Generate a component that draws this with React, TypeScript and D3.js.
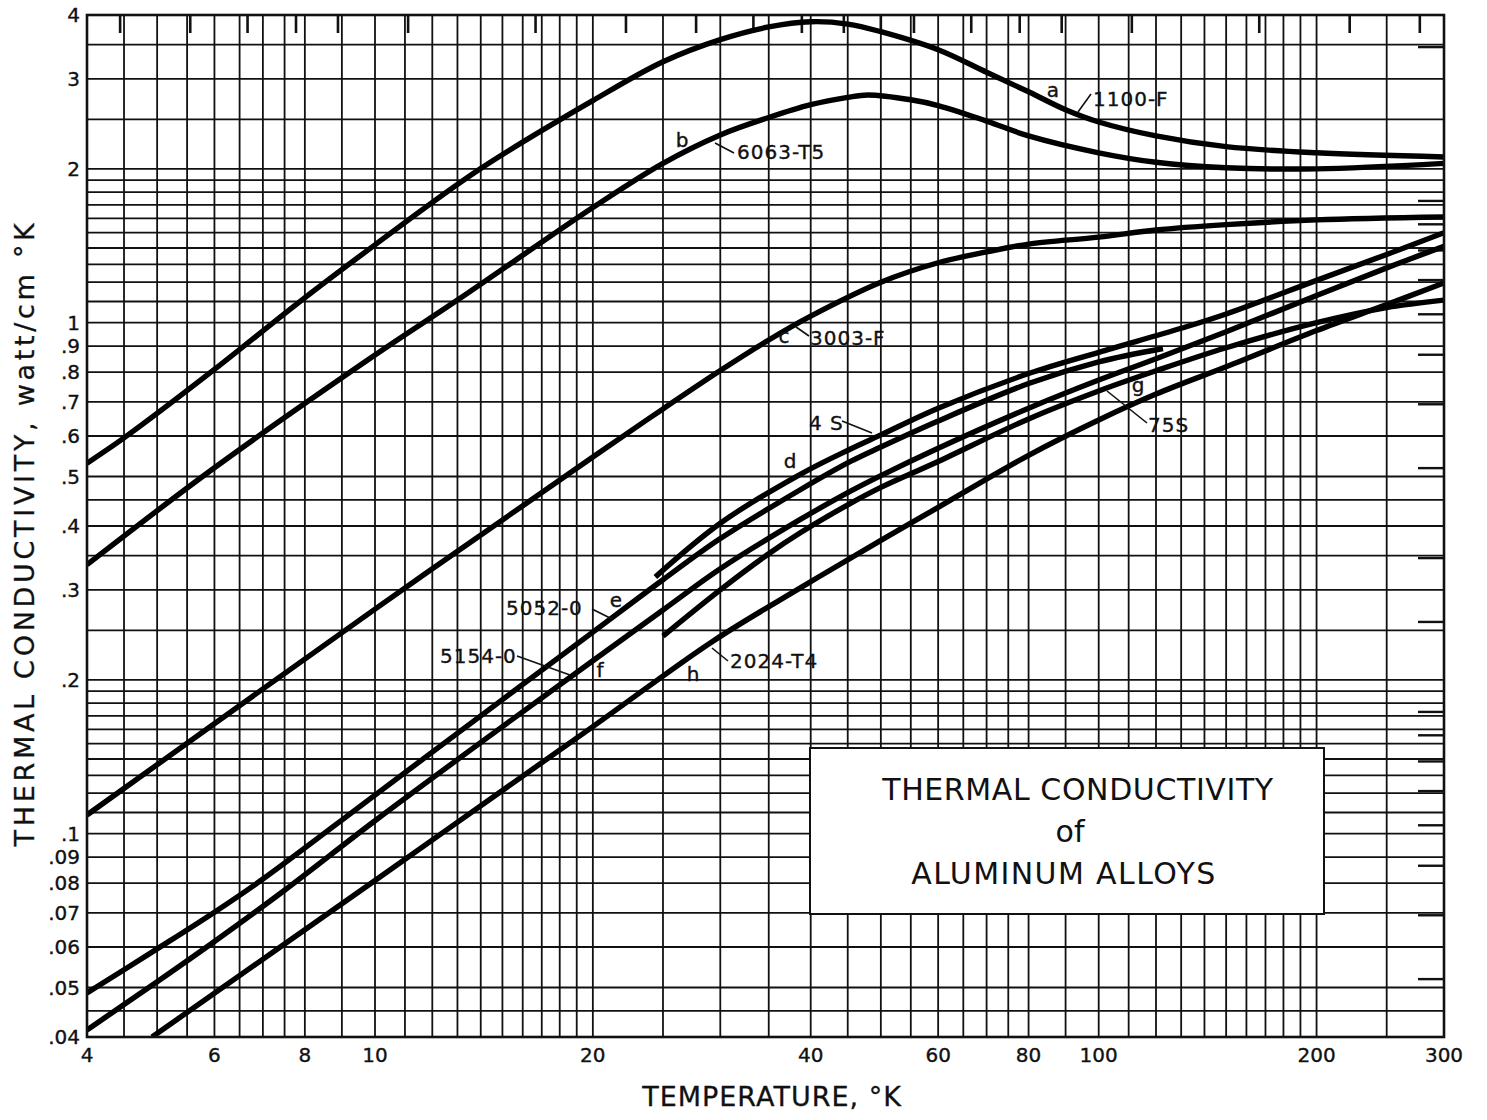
import React from 'react';
import * as d3 from 'd3';

// ---- axis grid (log paper rulings) ----
const tempGrid = [4, 4.5, 5, 5.5, 6, 6.5, 7, 7.5, 8, 9, 10, 11, 12, 13, 14, 15, 16, 17, 18, 19, 20, 25, 30, 35, 40, 45, 50, 55, 60, 65, 70, 75, 80, 90, 100, 110, 120, 130, 140, 150, 160, 170, 180, 190, 200, 250, 300];
const condGrid = [0.04, 0.045, 0.05, 0.06, 0.07, 0.08, 0.09, 0.1, 0.11, 0.12, 0.13, 0.14, 0.15, 0.16, 0.17, 0.18, 0.19, 0.2, 0.25, 0.3, 0.35, 0.4, 0.45, 0.5, 0.6, 0.7, 0.8, 0.9, 1, 1.1, 1.2, 1.3, 1.4, 1.5, 1.6, 1.7, 1.8, 1.9, 2, 2.5, 3, 3.5, 4];

// ---- tick labels ----
const tempTicks = [4, 6, 8, 10, 20, 40, 60, 80, 100, 200, 300];
const condTicks = [4, 3, 2, 1, 0.9, 0.8, 0.7, 0.6, 0.5, 0.4, 0.3, 0.2, 0.1, 0.09, 0.08, 0.07, 0.06, 0.05, 0.04];

// secondary scales marked along the top (°R) and right edge (Btu/hr ft °F)
const rankineTicks = [8, 10, 12, 14, 16, 20, 30, 40, 50, 60, 70, 80, 90, 100, 120, 140, 160, 200, 300, 400, 500];
const btuTicks = [3, 4, 5, 6, 7, 8, 9, 10, 15, 20, 30, 40, 50, 60, 70, 80, 90, 100, 200];
const RANKINE_PER_KELVIN = 1.8;
const BTU_PER_WATT_CM = 57.78;

// ---- curves: temperature (°K) and conductivity (watt/cm °K) ----
const tempA = [4, 4.5, 6, 7.81, 10, 13.98, 20, 25, 30, 35, 40, 45, 50, 60, 70, 80, 90, 100, 120, 150, 200, 300];
const condA = [0.531, 0.595, 0.81, 1.09, 1.42, 2.0, 2.72, 3.24, 3.58, 3.79, 3.88, 3.84, 3.71, 3.42, 3.09, 2.83, 2.61, 2.47, 2.32, 2.21, 2.15, 2.11];

const tempB = [4, 6, 10, 13, 20, 25, 30, 35, 40, 45, 48, 55, 60, 70, 80, 100, 120, 150, 200, 300];
const condB = [0.336, 0.52, 0.864, 1.107, 1.68, 2.05, 2.33, 2.52, 2.67, 2.76, 2.79, 2.73, 2.66, 2.48, 2.32, 2.15, 2.06, 2.01, 2.0, 2.05];

const tempC = [4, 10, 20, 25, 30, 35, 40, 50, 60, 70, 80, 100, 120, 150, 200, 300];
const condC = [0.1088, 0.275, 0.546, 0.678, 0.806, 0.925, 1.03, 1.2, 1.31, 1.375, 1.425, 1.47, 1.518, 1.555, 1.589, 1.61];

const tempD = [24.4, 30, 38.7, 45.4, 50, 60, 80, 100, 130, 150, 200, 250, 300];
const condD = [0.318, 0.405, 0.505, 0.566, 0.603, 0.68, 0.795, 0.875, 0.975, 1.04, 1.21, 1.36, 1.5];

const tempE = [4, 5, 6, 7, 10, 15, 20, 25, 30, 38.7, 45.4, 50, 60, 80, 100, 122.7];
const condE = [0.0488, 0.0595, 0.0702, 0.0815, 0.119, 0.183, 0.248, 0.314, 0.378, 0.471, 0.535, 0.571, 0.642, 0.76, 0.838, 0.89];

const tempF = [4, 5, 6, 7.5, 10, 15, 20, 25, 30, 38.7, 45.4, 50, 60, 80, 100, 120, 150, 200, 250, 300];
const condF = [0.0413, 0.0513, 0.0615, 0.0775, 0.106, 0.162, 0.218, 0.274, 0.33, 0.412, 0.468, 0.502, 0.568, 0.68, 0.772, 0.85, 0.96, 1.13, 1.28, 1.41];

const tempG = [25, 30, 35, 38.7, 45.4, 50, 60, 80, 100, 120, 150, 200, 250, 300];
const condG = [0.2436, 0.3, 0.353, 0.388, 0.443, 0.476, 0.535, 0.648, 0.735, 0.805, 0.893, 1.0, 1.07, 1.107];

const tempH = [4.92, 10, 20, 29.3, 38.7, 50, 60, 80, 100, 120, 150, 200, 250, 300];
const condH = [0.04, 0.081, 0.162, 0.238, 0.3026, 0.375, 0.435, 0.55, 0.645, 0.725, 0.82, 0.965, 1.085, 1.196];

const curveSeries = [
  { id: 'a', temp: tempA, cond: condA },
  { id: 'b', temp: tempB, cond: condB },
  { id: 'c', temp: tempC, cond: condC },
  { id: 'd', temp: tempD, cond: condD },
  { id: 'e', temp: tempE, cond: condE },
  { id: 'f', temp: tempF, cond: condF },
  { id: 'g', temp: tempG, cond: condG },
  { id: 'h', temp: tempH, cond: condH },
];

// ---- layout ----
const W = 1487;
const H = 1120;
const PLOT = { left: 87, right: 1444, top: 15, bottom: 1037 };
const FONT = '"DejaVu Sans", "Liberation Sans", Arial, sans-serif';

// curve letters and alloy designations, with their leader lines
const letterLabels = [
  { text: 'a', x: 1053, y: 97 },
  { text: 'b', x: 682, y: 147 },
  { text: 'c', x: 784, y: 343 },
  { text: 'd', x: 790, y: 468 },
  { text: 'e', x: 616, y: 607 },
  { text: 'f', x: 600, y: 677 },
  { text: 'g', x: 1138, y: 392 },
  { text: 'h', x: 693, y: 681 },
];

const alloyLabels = [
  { text: '1100-F', x: 1093, y: 106, lead: [1078, 112, 1091, 94] },
  { text: '6063-T5', x: 737, y: 159, lead: [715, 143, 734, 153] },
  { text: '3003-F', x: 810, y: 345, lead: [796, 327, 809, 336] },
  { text: '4 S', x: 809, y: 430, lead: [842, 421, 872, 433] },
  { text: '5052-0', x: 506, y: 615, lead: [592, 609, 612, 619] },
  { text: '5154-0', x: 440, y: 663, lead: [517, 656, 570, 675] },
  { text: '75S', x: 1148, y: 432, lead: [1107, 391, 1147, 423] },
  { text: '2024-T4', x: 730, y: 668, lead: [712, 648, 728, 661] },
];

const fmtCond = (v: number) => (v >= 1 ? String(v) : String(v).replace(/^0/, ''));

export default function App() {
  const x = d3.scaleLog().domain([4, 300]).range([PLOT.left, PLOT.right]);
  const y = d3.scaleLog().domain([0.04, 4]).range([PLOT.bottom, PLOT.top]);

  const line = d3
    .line<[number, number]>()
    .x((d) => x(d[0]))
    .y((d) => y(d[1]))
    .curve(d3.curveCatmullRom.alpha(0.5));

  const ink = '#111';

  return (
    <svg
      width={W}
      height={H}
      viewBox={`0 0 ${W} ${H}`}
      style={{ position: 'absolute', left: 0, top: 0, background: '#fff' }}
      fontFamily={FONT}
    >
      <defs>
        <clipPath id="plot-clip">
          <rect x={PLOT.left} y={PLOT.top} width={PLOT.right - PLOT.left} height={PLOT.bottom - PLOT.top} />
        </clipPath>
      </defs>
      <rect x={0} y={0} width={W} height={H} fill="#fff" />

      {/* grid rulings */}
      <g stroke={ink} strokeWidth={1.8}>
        {tempGrid.map((t) => (
          <line key={`vx${t}`} x1={x(t)} x2={x(t)} y1={PLOT.top} y2={PLOT.bottom} />
        ))}
        {condGrid.map((k) => (
          <line key={`hy${k}`} x1={PLOT.left} x2={PLOT.right} y1={y(k)} y2={y(k)} />
        ))}
      </g>

      {/* °R ticks along the top edge */}
      <g stroke={ink} strokeWidth={2.6}>
        {rankineTicks.map((r) => {
          const px = x(r / RANKINE_PER_KELVIN);
          return <line key={`r${r}`} x1={px} x2={px} y1={PLOT.top} y2={PLOT.top + 18} />;
        })}
      </g>

      {/* Btu/hr ft °F ticks along the right edge */}
      <g stroke={ink} strokeWidth={2.4}>
        {btuTicks.map((b) => {
          const py = y(b / BTU_PER_WATT_CM);
          return <line key={`b${b}`} x1={PLOT.right - 26} x2={PLOT.right} y1={py} y2={py} />;
        })}
      </g>

      {/* title panel */}
      <rect x={810} y={748} width={514} height={166} fill="#fff" stroke={ink} strokeWidth={2} />
      <g fill={ink} textAnchor="middle" fontSize={30} style={{ whiteSpace: 'pre' }}>
        <text x={1078} y={800} letterSpacing={0.6}>{'THERMAL  CONDUCTIVITY'}</text>
        <text x={1070} y={842}>of</text>
        <text x={1064} y={884} letterSpacing={1.4}>{'ALUMINUM  ALLOYS'}</text>
      </g>

      {/* conductivity curves */}
      <g clipPath="url(#plot-clip)" fill="none" stroke="#000" strokeWidth={5.4} strokeLinejoin="round">
        {curveSeries.map((s) => (
          <path
            key={s.id}
            d={line(s.temp.map((t, i) => [t, s.cond[i]] as [number, number])) || ''}
          />
        ))}
      </g>

      {/* plot frame */}
      <rect
        x={PLOT.left}
        y={PLOT.top}
        width={PLOT.right - PLOT.left}
        height={PLOT.bottom - PLOT.top}
        fill="none"
        stroke={ink}
        strokeWidth={2.6}
      />

      {/* curve labels */}
      <g fill={ink} fontSize={20} stroke={ink} strokeWidth={0.35}>
        {letterLabels.map((l) => (
          <text key={`l${l.text}`} x={l.x} y={l.y} textAnchor="middle">
            {l.text}
          </text>
        ))}
        {alloyLabels.map((l) => (
          <g key={`n${l.text}`}>
            <line x1={l.lead[0]} y1={l.lead[1]} x2={l.lead[2]} y2={l.lead[3]} stroke={ink} strokeWidth={1.6} />
            <text x={l.x} y={l.y} letterSpacing={1} style={{ whiteSpace: 'pre' }}>
              {l.text}
            </text>
          </g>
        ))}
      </g>

      {/* x tick labels */}
      <g fill={ink} fontSize={20} textAnchor="middle" stroke={ink} strokeWidth={0.35}>
        {tempTicks.map((t) => (
          <text key={`xt${t}`} x={x(t)} y={PLOT.bottom + 25}>
            {t}
          </text>
        ))}
      </g>

      {/* y tick labels */}
      <g fill={ink} fontSize={20} textAnchor="end" stroke={ink} strokeWidth={0.35}>
        {condTicks.map((k) => (
          <text key={`yt${k}`} x={80} y={y(k)} dy="0.36em">
            {fmtCond(k)}
          </text>
        ))}
      </g>

      {/* axis titles */}
      <text x={772} y={1106} fill={ink} fontSize={27} textAnchor="middle" letterSpacing={1} stroke={ink} strokeWidth={0.3}>
        TEMPERATURE, °K
      </text>
      <text
        transform="translate(34,533) rotate(-90)"
        fill={ink}
        fontSize={27}
        textAnchor="middle"
        letterSpacing={3.7}
        stroke={ink}
        strokeWidth={0.3}
      >
        THERMAL CONDUCTIVITY, watt/cm °K
      </text>
    </svg>
  );
}
